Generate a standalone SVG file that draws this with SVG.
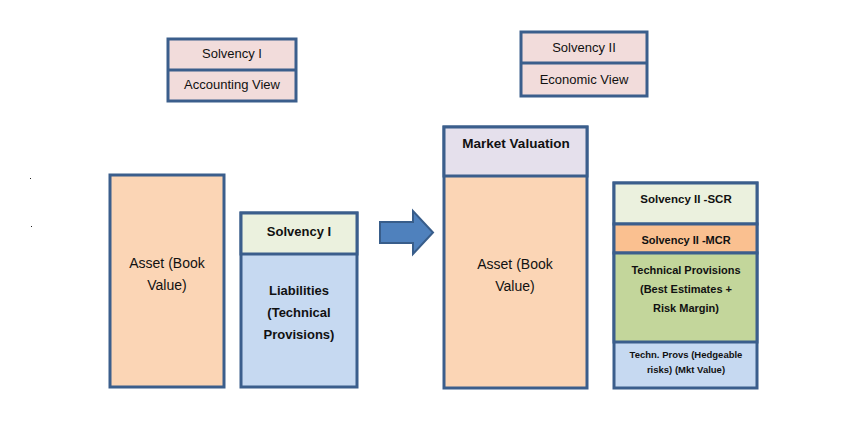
<svg xmlns="http://www.w3.org/2000/svg" width="847" height="444" viewBox="0 0 847 444">
<style>
.b{stroke:#3b5e8c;stroke-width:3}
.t{font-family:"Liberation Sans",Arial,sans-serif;font-size:13px;fill:#111;text-anchor:middle}
.bd{font-weight:bold}
.a{font-size:14px}
</style>
<rect width="847" height="444" fill="#fff"/>
<rect x="30" y="178" width="1" height="1" fill="#222"/>
<rect x="31" y="226" width="1" height="1" fill="#222"/>
<g id="s1-legend">
<rect class="b" x="168" y="39" width="128" height="62" fill="#f2dcdb"/>
<line class="b" x1="168" y1="70" x2="296" y2="70"/>
<text class="t" x="232" y="58">Solvency I</text>
<text class="t" x="232" y="89">Accounting View</text>
</g>
<g id="s2-legend">
<rect class="b" x="521" y="32" width="126" height="64" fill="#f2dcdb"/>
<line class="b" x1="521" y1="63" x2="647" y2="63"/>
<text class="t" x="584" y="52">Solvency II</text>
<text class="t" x="584" y="84">Economic View</text>
</g>
<g id="asset-book">
<rect class="b" x="110" y="175" width="114" height="212" fill="#fbd5b5"/>
<text class="t a" x="167" y="268">Asset (Book</text>
<text class="t a" x="167" y="290">Value)</text>
</g>
<g id="s1-liabilities">
<rect class="b" x="241" y="213" width="116" height="174" fill="#c6d9f1"/>
<rect class="b" x="241" y="213" width="116" height="41" fill="#ebf1de"/>
<text class="t bd" x="299" y="236">Solvency I</text>
<text class="t bd" x="299" y="295">Liabilities</text>
<text class="t bd" x="299" y="317">(Technical</text>
<text class="t bd" x="299" y="339">Provisions)</text>
</g>
<g id="connectors">
<path d="M380,222 H413 V211 L433,232.5 L413,254 V243 H380 Z" fill="#4f81bd" stroke="#385d8a" stroke-width="2"/>
</g>
<g id="market-valuation">
<rect class="b" x="444" y="127" width="143" height="261" fill="#fbd5b5"/>
<rect class="b" x="444" y="127" width="143" height="49" fill="#e5e0ec"/>
<text class="t bd" x="516" y="148" style="font-size:13.5px">Market Valuation</text>
<text class="t a" x="515" y="269">Asset (Book</text>
<text class="t a" x="515" y="291">Value)</text>
</g>
<g id="s2-stack">
<rect class="b" x="614" y="183" width="143" height="205" fill="#c6d9f1"/>
<rect class="b" x="614" y="183" width="143" height="41" fill="#ebf1de"/>
<rect class="b" x="614" y="224" width="143" height="29" fill="#fac090"/>
<rect class="b" x="614" y="253" width="143" height="89" fill="#c3d69b"/>
<text class="t bd" x="686" y="203" style="font-size:11.5px">Solvency II -SCR</text>
<text class="t bd" x="686" y="244" style="font-size:11px">Solvency II -MCR</text>
<text class="t bd" x="686" y="274" style="font-size:11px">Technical  Provisions</text>
<text class="t bd" x="686" y="293" style="font-size:11px">(Best Estimates +</text>
<text class="t bd" x="686" y="312" style="font-size:11px">Risk  Margin)</text>
<text class="t bd" x="686" y="358" style="font-size:9.5px">Techn. Provs  (Hedgeable</text>
<text class="t bd" x="686" y="373" style="font-size:9.5px">risks) (Mkt Value)</text>
</g>
</svg>
